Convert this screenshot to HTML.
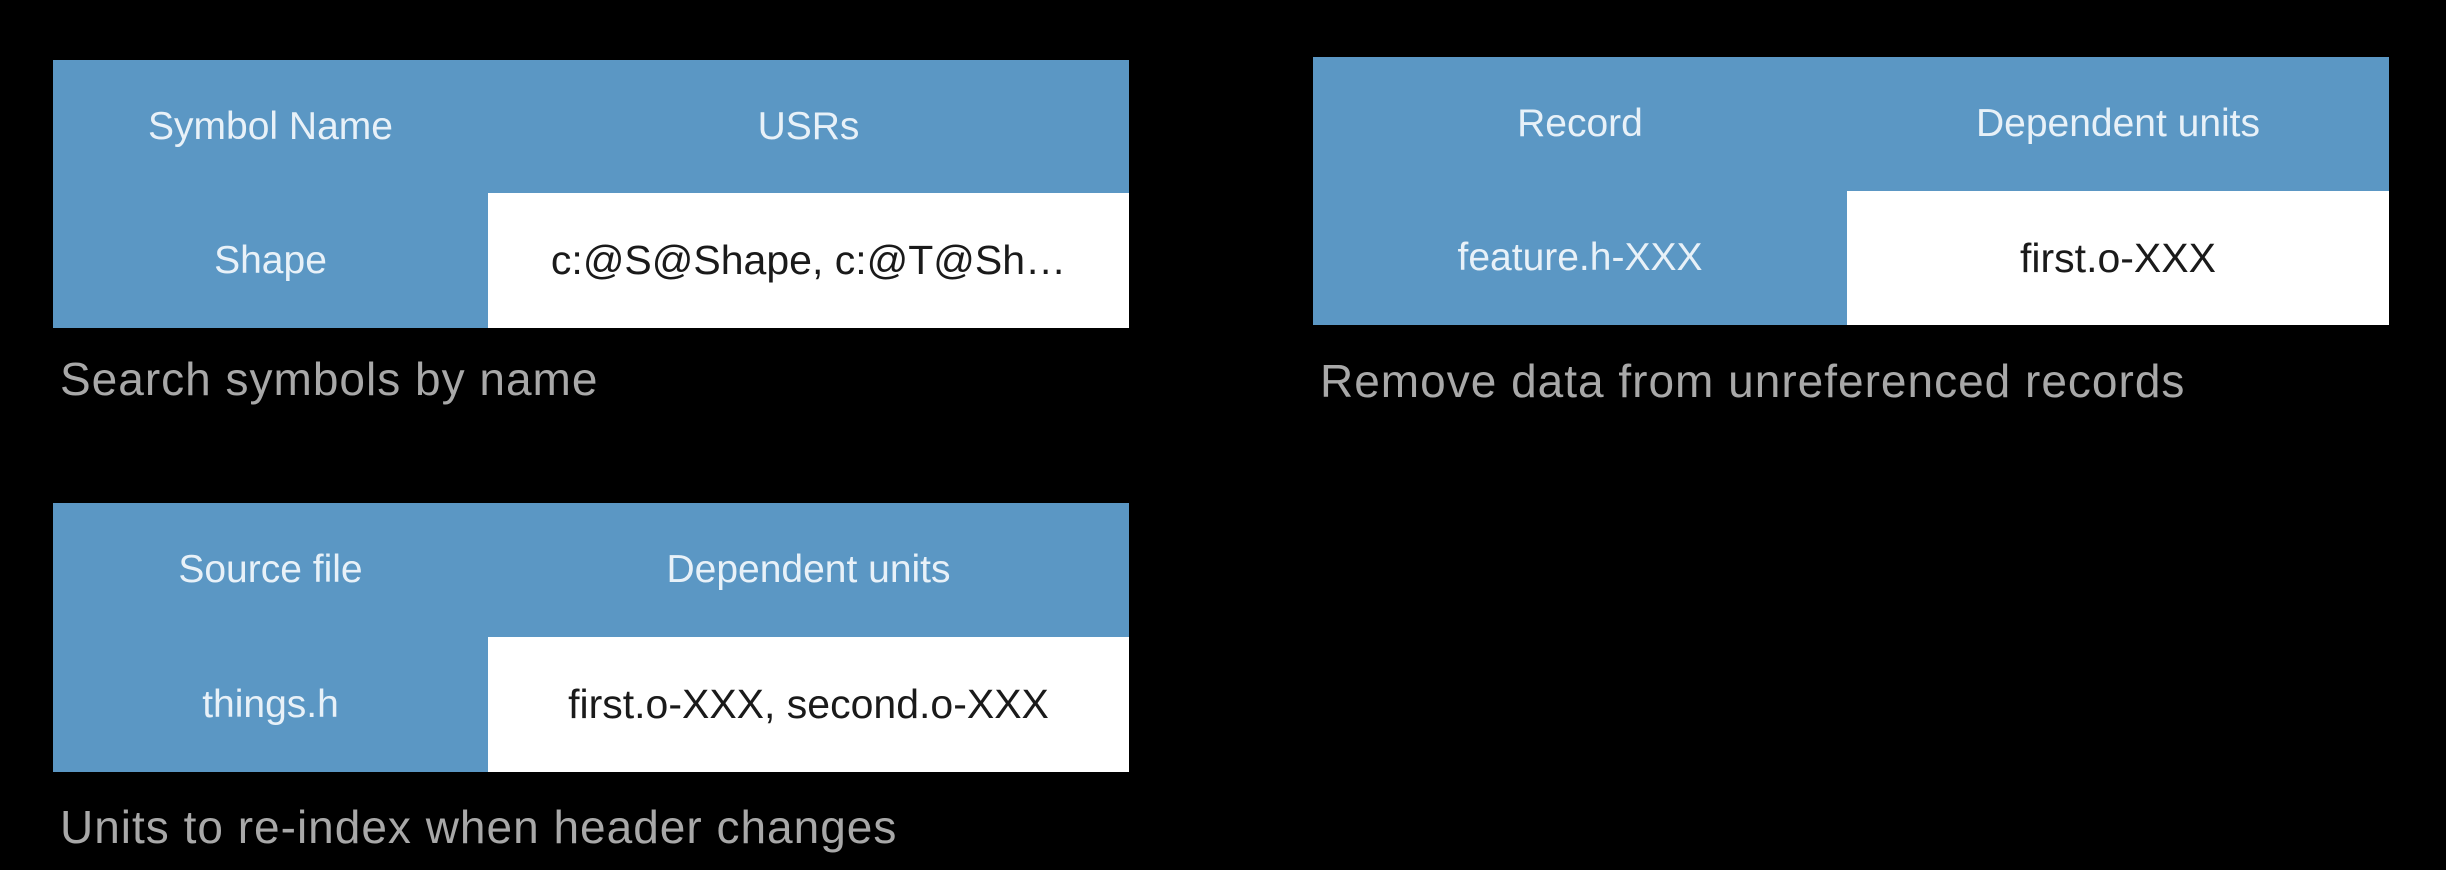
<!DOCTYPE html>
<html><head><style>
body{margin:0;width:2446px;height:870px;background:#000;position:relative;overflow:hidden;font-family:"Liberation Sans",sans-serif}
.t{position:absolute;background:#5b97c4}
.w{position:absolute;background:#fff}
.c{position:absolute;display:flex;align-items:center;justify-content:center;font-size:39px;color:#e8f1f8;white-space:nowrap}
.c.d{color:#1a1a1a;font-size:41px}
.cap{position:absolute;font-size:46px;color:#a8a8a8;white-space:nowrap;letter-spacing:1px}
</style></head><body>
<div class="t" style="left:53px;top:60px;width:1076px;height:268px"></div>
<div class="w" style="left:488px;top:193px;width:641px;height:135px"></div>
<div class="c" style="left:53px;top:60px;width:435px;height:133px">Symbol Name</div>
<div class="c" style="left:488px;top:60px;width:641px;height:133px">USRs</div>
<div class="c" style="left:53px;top:193px;width:435px;height:135px">Shape</div>
<div class="c d" style="left:488px;top:193px;width:641px;height:135px">c:@S@Shape, c:@T@Sh…</div>
<div class="cap" style="left:60px;top:352px">Search symbols by name</div>

<div class="t" style="left:1313px;top:57px;width:1076px;height:268px"></div>
<div class="w" style="left:1847px;top:191px;width:542px;height:134px"></div>
<div class="c" style="left:1313px;top:57px;width:534px;height:134px">Record</div>
<div class="c" style="left:1847px;top:57px;width:542px;height:134px">Dependent units</div>
<div class="c" style="left:1313px;top:191px;width:534px;height:134px">feature.h-XXX</div>
<div class="c d" style="left:1847px;top:191px;width:542px;height:134px">first.o-XXX</div>
<div class="cap" style="left:1320px;top:354px">Remove data from unreferenced records</div>

<div class="t" style="left:53px;top:503px;width:1076px;height:269px"></div>
<div class="w" style="left:488px;top:637px;width:641px;height:135px"></div>
<div class="c" style="left:53px;top:503px;width:435px;height:134px">Source file</div>
<div class="c" style="left:488px;top:503px;width:641px;height:134px">Dependent units</div>
<div class="c" style="left:53px;top:637px;width:435px;height:135px">things.h</div>
<div class="c d" style="left:488px;top:637px;width:641px;height:135px">first.o-XXX, second.o-XXX</div>
<div class="cap" style="left:60px;top:800px">Units to re-index when header changes</div>
</body></html>
